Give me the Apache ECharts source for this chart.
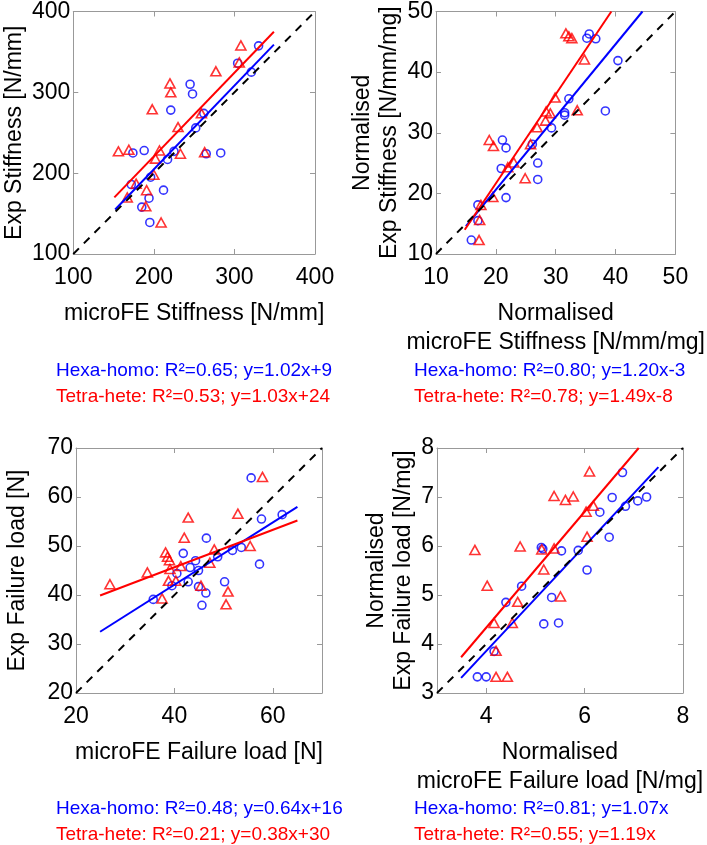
<!DOCTYPE html>
<html><head><meta charset="utf-8">
<script src="https://cdn.jsdelivr.net/npm/echarts@6/dist/echarts.min.js"></script>
<style>html,body{margin:0;padding:0;background:#fff}#c{width:707px;height:845px}</style>
</head><body><div id="c"></div>
<script>
// ---------- Panel 1: Stiffness ----------
const p1HexaX = [330,321,304,245,248,221,262,252,174,188,225,217,265,283,196,172,212,194,185,195];
const p1HexaY = [357.5,325,336,310,298,278,274,256,225,228,227,217,224,225,195,186,179,169,158,139];
const p1TetraX = [308,306,277,220,221,198,259,230,156,169,207,202,233,263,200,178,191,167,190,209];
const p1TetraY = [358,337,326,311,300,279,274,257,227,229,228,218,224,226,198,187,179,170,159,139];
const p1HexaFitX = [152,349], p1HexaFitY = [155,359];
const p1TetraFitX = [151,349], p1TetraFitY = [170,375];
const p1DiagX = [100,400], p1DiagY = [100,400];
const p1Ticks = [100,200,300,400];

// ---------- Panel 2: Normalised stiffness ----------
const p2HexaX = [35.6,35.2,36.7,40.4,32.2,38.3,31.5,31.5,29.3,21.1,21.7,26.1,20.9,27.0,27.0,21.7,17.0,17.0,15.9];
const p2HexaY = [46.3,45.6,45.5,41.9,35.6,33.6,33.3,32.9,30.8,28.8,27.5,28.1,24.1,25.0,22.3,19.3,18.1,15.5,12.3];
const p2TetraX = [31.7,32.2,32.7,34.8,29.9,33.6,28.4,29.1,28.3,26.9,18.9,19.6,25.8,23.0,22.0,24.9,19.5,17.5,17.3,17.2];
const p2TetraY = [46.4,45.9,45.6,42.1,35.8,33.7,33.5,33.2,32.0,30.9,28.8,27.8,28.1,25.1,24.3,22.5,19.4,18.1,15.6,12.3];
const p2HexaFitX = [15.0,44.5], p2HexaFitY = [14.6,50];
const p2TetraFitX = [14.8,39.3], p2TetraFitY = [14.0,50];
const p2DiagX = [10,50], p2DiagY = [10,50];
const p2Ticks = [10,20,30,40,50];

// ---------- Panel 3: Failure load ----------
const p3HexaX = [55.6,61.9,57.7,46.5,41.8,53.6,51.8,48.8,57.3,44.3,43.2,44.9,40.5,39.5,42.8,44.9,46.4,50.2,45.6,35.7];
const p3HexaY = [63.9,56.4,55.5,51.6,48.5,49.7,49.1,47.8,46.3,47.0,45.6,45.0,44.4,41.9,42.7,41.7,40.4,42.7,37.9,39.1];
const p3TetraX = [57.9,52.9,42.8,42.0,55.4,48.1,38.2,38.6,39.0,47.2,41.3,39.1,34.5,38.8,40.3,45.4,50.9,50.5,26.9,37.5];
const p3TetraY = [64.1,56.6,55.8,51.7,50.0,49.3,48.7,47.8,47.1,46.6,45.9,45.3,44.6,42.9,42.9,41.9,40.7,38.1,42.2,39.3];
const p3HexaFitX = [24.9,65.0], p3HexaFitY = [32.5,58.0];
const p3TetraFitX = [24.9,65.0], p3TetraFitY = [39.9,55.2];
const p3DiagX = [20,70], p3DiagY = [20,70];
const p3XTicks = [20,40,60];
const p3YTicks = [20,30,40,50,60,70];

// ---------- Panel 4: Normalised failure load ----------
const p4HexaX = [6.77,6.56,7.26,7.08,6.83,6.31,6.50,5.12,5.15,5.53,5.87,6.05,4.72,4.40,5.33,5.17,5.47,4.16,3.82,4.00];
const p4HexaY = [7.50,6.99,7.00,6.92,6.81,6.69,6.18,5.97,5.94,5.90,5.91,5.51,5.18,4.85,4.95,4.41,4.43,3.85,3.33,3.33];
const p4TetraX = [6.10,5.38,5.61,5.77,6.18,6.03,6.05,3.77,4.69,5.13,5.38,5.17,4.02,5.51,4.64,4.16,4.53,4.20,4.20,4.43];
const p4TetraY = [7.52,7.02,6.94,7.01,6.82,6.70,6.19,5.92,5.99,5.93,5.95,5.52,5.19,4.97,4.86,4.43,4.43,3.86,3.33,3.33];
const p4HexaFitX = [3.49,7.50], p4HexaFitY = [3.31,7.61];
const p4TetraFitX = [3.49,7.10], p4TetraFitY = [3.73,8.0];
const p4DiagX = [3,8], p4DiagY = [3,8];
const p4XTicks = [4,6,8];
const p4YTicks = [3,4,5,6,7,8];

// ---------- Text ----------
const xTitles = ['microFE Stiffness [N/mm]', 'Normalised\nmicroFE Stiffness [N/mm/mg]', 'microFE Failure load [N]', 'Normalised\nmicroFE Failure load [N/mg]'];
const yTitles = ['Exp Stiffness [N/mm]', 'Normalised\nExp Stiffness [N/mm/mg]', 'Exp Failure load [N]', 'Normalised\nExp Failure load [N/mg]'];
const hexaNotes = ['Hexa-homo: R²=0.65; y=1.02x+9', 'Hexa-homo: R²=0.80; y=1.20x-3', 'Hexa-homo: R²=0.48; y=0.64x+16', 'Hexa-homo: R²=0.81; y=1.07x'];
const tetraNotes = ['Tetra-hete: R²=0.53; y=1.03x+24', 'Tetra-hete: R²=0.78; y=1.49x-8', 'Tetra-hete: R²=0.21; y=0.38x+30', 'Tetra-hete: R²=0.55; y=1.19x'];

const FONT = 'Liberation Sans, Arial, Helvetica, sans-serif';
const BLUE = '#0000ff', RED = '#ff0000', AX = '#999999';

const zip = (a, b) => a.map((v, i) => [v, b[i]]);

const panels = [
  {hx:p1HexaX,hy:p1HexaY,tx:p1TetraX,ty:p1TetraY,hfx:p1HexaFitX,hfy:p1HexaFitY,tfx:p1TetraFitX,tfy:p1TetraFitY,dx:p1DiagX,dy:p1DiagY,xt:p1Ticks,yt:p1Ticks},
  {hx:p2HexaX,hy:p2HexaY,tx:p2TetraX,ty:p2TetraY,hfx:p2HexaFitX,hfy:p2HexaFitY,tfx:p2TetraFitX,tfy:p2TetraFitY,dx:p2DiagX,dy:p2DiagY,xt:p2Ticks,yt:p2Ticks},
  {hx:p3HexaX,hy:p3HexaY,tx:p3TetraX,ty:p3TetraY,hfx:p3HexaFitX,hfy:p3HexaFitY,tfx:p3TetraFitX,tfy:p3TetraFitY,dx:p3DiagX,dy:p3DiagY,xt:p3XTicks,yt:p3YTicks},
  {hx:p4HexaX,hy:p4HexaY,tx:p4TetraX,ty:p4TetraY,hfx:p4HexaFitX,hfy:p4HexaFitY,tfx:p4TetraFitX,tfy:p4TetraFitY,dx:p4DiagX,dy:p4DiagY,xt:p4XTicks,yt:p4YTicks}
];

const grids = [
  {left:67, top:7, width:248, height:247},
  {left:436, top:7, width:246, height:247},
  {left:76, top:448, width:246, height:245},
  {left:437, top:448, width:246, height:245}
];
const yNameGaps = [39, 27, 45, 18];
const xNameGaps = [45, 45, 45, 45];

const xAxes = [], yAxes = [], series = [];
const tickStyle = {show:true, inside:true, length:5, lineStyle:{color:AX, width:1}};
const lineStyleAx = {show:true, onZero:false, lineStyle:{color:AX, width:1}};

panels.forEach((p, i) => {
  const xmin = p.dx[0], xmax = p.dx[1], ymin = p.dy[0], ymax = p.dy[1];
  xAxes.push({
    type:'value', gridIndex:i, min:xmin, max:xmax, position:'bottom',
    axisLine:lineStyleAx, axisTick:Object.assign({customValues:p.xt}, tickStyle),
    axisLabel:{customValues:p.xt, color:'#000', fontSize:23, fontFamily:FONT, margin:12},
    splitLine:{show:false},
    name:xTitles[i], nameLocation:'middle', nameGap:xNameGaps[i],
    nameTextStyle:{color:'#000', fontSize:23, fontFamily:FONT, lineHeight:29, verticalAlign:'top'}
  });
  xAxes.push({
    type:'value', gridIndex:i, min:xmin, max:xmax, position:'top',
    axisLine:lineStyleAx, axisTick:Object.assign({customValues:p.xt}, tickStyle),
    axisLabel:{show:false}, splitLine:{show:false}
  });
  yAxes.push({
    type:'value', gridIndex:i, min:ymin, max:ymax, position:'left',
    axisLine:lineStyleAx, axisTick:Object.assign({customValues:p.yt}, tickStyle),
    axisLabel:{customValues:p.yt, color:'#000', fontSize:23, fontFamily:FONT, margin:3},
    splitLine:{show:false},
    name:yTitles[i], nameLocation:'middle', nameGap:yNameGaps[i],
    nameTextStyle:{color:'#000', fontSize:23, fontFamily:FONT, lineHeight:27}
  });
  yAxes.push({
    type:'value', gridIndex:i, min:ymin, max:ymax, position:'right',
    axisLine:lineStyleAx, axisTick:Object.assign({customValues:p.yt}, tickStyle),
    axisLabel:{show:false}, splitLine:{show:false}
  });
  const xi = 2*i, yi = 2*i;
  series.push({type:'scatter', xAxisIndex:xi, yAxisIndex:yi, symbol:'circle', symbolSize:8,
    itemStyle:{color:'rgba(0,0,0,0)', borderColor:BLUE, borderWidth:1.6}, data:zip(p.hx,p.hy), z:2});
  series.push({type:'scatter', xAxisIndex:xi, yAxisIndex:yi, symbol:'triangle', symbolSize:[10,9],
    itemStyle:{color:'rgba(0,0,0,0)', borderColor:RED, borderWidth:1.6}, data:zip(p.tx,p.ty), z:2});
  series.push({type:'line', xAxisIndex:xi, yAxisIndex:yi, symbol:'none', z:3,
    lineStyle:{color:BLUE, width:2}, data:zip(p.hfx,p.hfy)});
  series.push({type:'line', xAxisIndex:xi, yAxisIndex:yi, symbol:'none', z:3,
    lineStyle:{color:RED, width:2}, data:zip(p.tfx,p.tfy)});
  series.push({type:'line', xAxisIndex:xi, yAxisIndex:yi, symbol:'none', z:4,
    lineStyle:{color:'#000', width:2, type:[8,7]}, data:zip(p.dx,p.dy)});
});

const notePos = [
  {x:56, y1:371, y2:397},
  {x:414, y1:371, y2:397},
  {x:56, y1:809, y2:835},
  {x:414, y1:809, y2:835}
];
const graphic = [];
notePos.forEach((n, i) => {
  graphic.push({type:'text', x:n.x, y:n.y1, style:{text:hexaNotes[i], fill:BLUE, fontSize:19, fontFamily:FONT, verticalAlign:'middle'}});
  graphic.push({type:'text', x:n.x, y:n.y2, style:{text:tetraNotes[i], fill:RED, fontSize:19, fontFamily:FONT, verticalAlign:'middle'}});
});

const chart = echarts.init(document.getElementById('c'), null, {renderer:'canvas'});
chart.setOption({
  animation:false,
  backgroundColor:'#fff',
  grid:grids.map(g => Object.assign({containLabel:false}, g)),
  xAxis:xAxes, yAxis:yAxes, series:series, graphic:graphic
});
</script></body></html>
